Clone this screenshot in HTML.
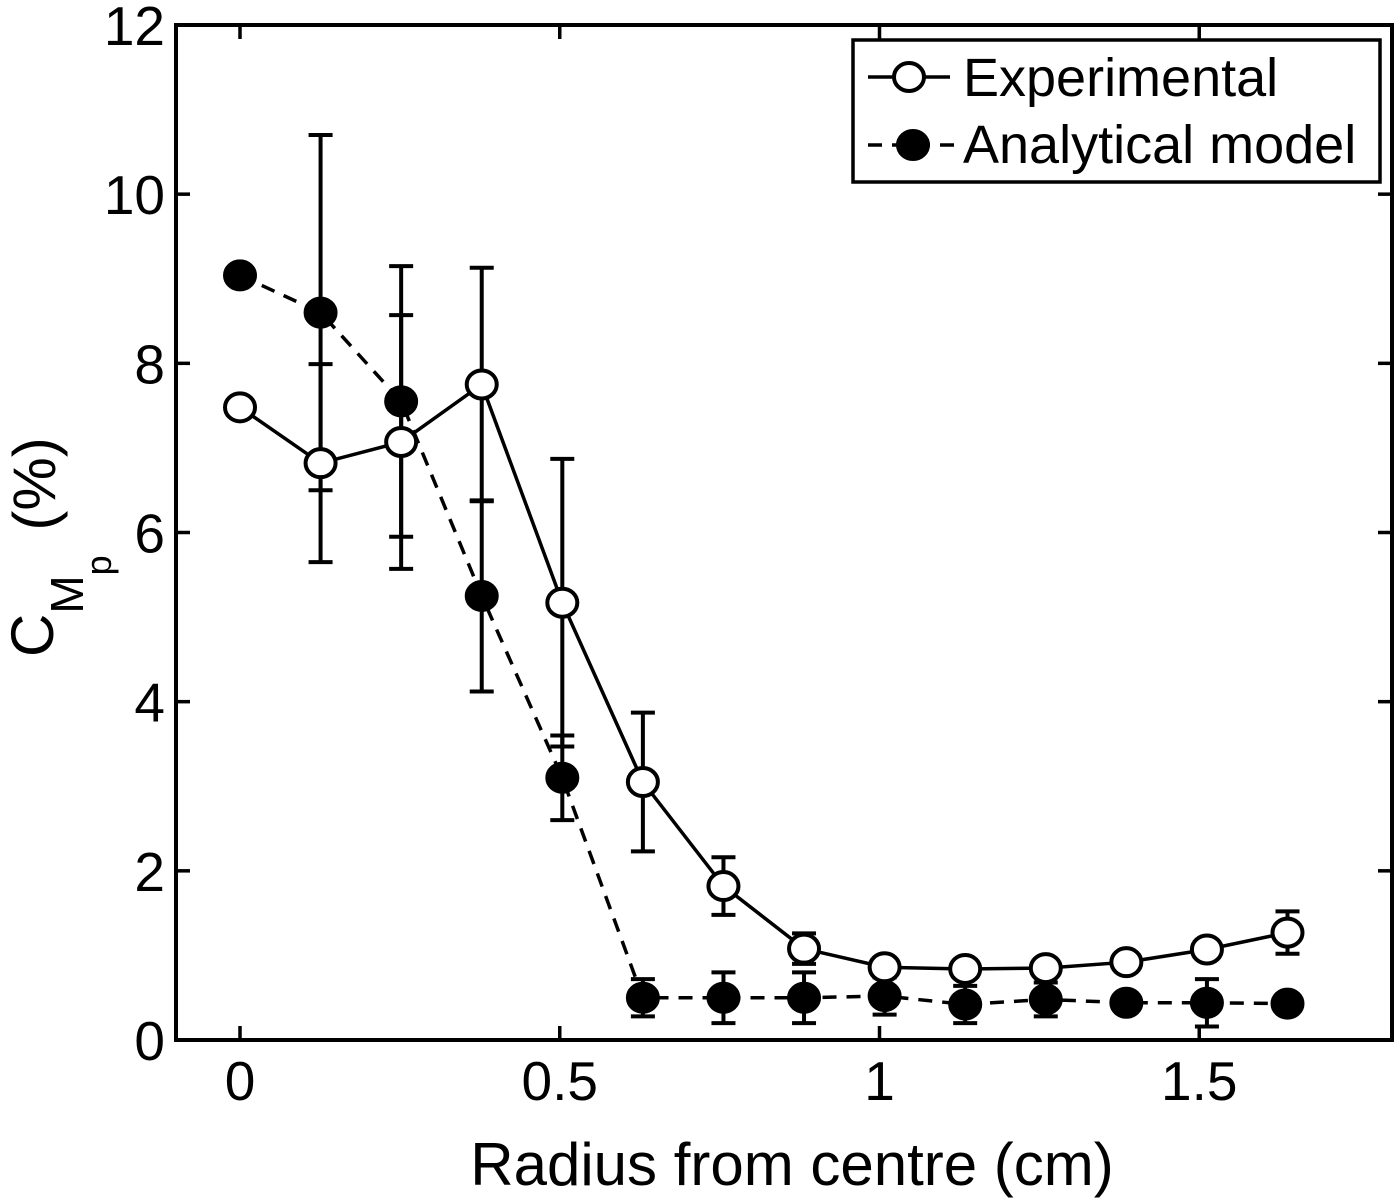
<!DOCTYPE html>
<html><head><meta charset="utf-8"><style>body{margin:0;background:#fff}svg{display:block;font-family:"Liberation Sans",Arial,sans-serif}</style></head>
<body>
<svg id="c" width="1400" height="1204" xmlns="http://www.w3.org/2000/svg"></svg>
<script>
const radii=[0,0.126,0.252,0.378,0.504,0.63,0.756,0.882,1.008,1.134,1.26,1.386,1.512,1.638];
const expVals=[7.48,6.82,7.07,7.75,5.17,3.05,1.82,1.08,0.86,0.84,0.85,0.92,1.07,1.27];
const expErr=[0,1.17,1.5,1.38,1.7,0.82,0.34,0.18,0.06,0.05,0.05,0.04,0.1,0.25];
const modVals=[9.04,8.6,7.55,5.25,3.1,0.5,0.5,0.5,0.52,0.42,0.48,0.44,0.44,0.43];
const modErr=[0,2.1,1.6,1.13,0.5,0.22,0.3,0.3,0.22,0.22,0.2,0,0.28,0];
const xTicks=[0,0.5,1,1.5];
const xTickLabels=["0","0.5","1","1.5"];
const yTicks=[0,2,4,6,8,10,12];
const L=176,R=1392,T=25,B=1040;
const X=v=>240+v*639.5, Y=v=>B-v*(B-T)/12;
const s=document.getElementById('c'),NS="http://www.w3.org/2000/svg";
function mk(t,a,p){const e=document.createElementNS(NS,t);for(const k in a)e.setAttribute(k,a[k]);(p||s).appendChild(e);return e;}
const ax=mk('g',{});


mk('rect',{x:L,y:T,width:R-L,height:B-T,fill:'none',stroke:'#000','stroke-width':4},ax);
xTicks.forEach((v,i)=>{const x=X(v);
mk('line',{x1:x,x2:x,y1:B,y2:B-14,stroke:'#000','stroke-width':3.5},ax);
mk('line',{x1:x,x2:x,y1:T,y2:T+14,stroke:'#000','stroke-width':3.5},ax);
const t=mk('text',{x:x,y:1100,'font-size':55,'text-anchor':'middle'},ax);t.textContent=xTickLabels[i];

});
yTicks.forEach(v=>{const y=Y(v);
mk('line',{x1:L,x2:L+14,y1:y,y2:y,stroke:'#000','stroke-width':3.5},ax);
mk('line',{x1:R,x2:R-14,y1:y,y2:y,stroke:'#000','stroke-width':3.5},ax);
const t=mk('text',{x:165,y:y+20,'font-size':55,'text-anchor':'end'},ax);t.textContent=v;

});
const xl=mk('text',{x:792,y:1185,'font-size':60,'text-anchor':'middle'});xl.textContent='Radius from centre (cm)';


const yl=mk('text',{transform:'translate(53,657) rotate(-90)','font-size':60,'text-anchor':'start'});
yl.innerHTML='C<tspan font-size="46" dy="30">M</tspan><tspan font-size="36" dy="28">p</tspan><tspan dy="-56" dx="8"> (%)</tspan>';


function series(vals,err,dash,fill,name){
const g=mk('g',{});


mk('polyline',{points:vals.map((v,i)=>X(radii[i])+','+Y(v)).join(' '),fill:'none',stroke:'#000','stroke-width':3.5,'stroke-dasharray':dash},g);
vals.forEach((v,i)=>{if(err[i]>0){const x=X(radii[i]),a=Y(v+err[i]),b=Y(v-err[i]);
mk('path',{d:`M${x},${a}V${b}M${x-12},${a}h24M${x-12},${b}h24`,stroke:'#000','stroke-width':4,fill:'none'},g);}});
vals.forEach((v,i)=>{const c=mk('ellipse',{cx:X(radii[i]),cy:Y(v),rx:15,ry:14,fill:fill,stroke:'#000','stroke-width':4},g);

});}
series(modVals,modErr,'14 10','#000','analytical-series');
series(expVals,expErr,'none','#fff','experimental-series');
const lg=mk('g',{});


mk('rect',{x:853,y:40,width:527,height:142,fill:'#fff',stroke:'#000','stroke-width':3.5},lg);
mk('line',{x1:868,x2:950,y1:77,y2:77,stroke:'#000','stroke-width':3.5},lg);
mk('ellipse',{cx:909,cy:77,rx:15,ry:14,fill:'#fff',stroke:'#000','stroke-width':4},lg);
mk('line',{x1:868,x2:954,y1:145,y2:145,stroke:'#000','stroke-width':3.5,'stroke-dasharray':'14 10'},lg);
mk('ellipse',{cx:913,cy:145,rx:15,ry:14,fill:'#000',stroke:'#000','stroke-width':4},lg);
const t1=mk('text',{x:963,y:96,'font-size':54},lg);t1.textContent='Experimental';


const t2=mk('text',{x:963,y:163,'font-size':54},lg);t2.textContent='Analytical model';


</script>
</body></html>
